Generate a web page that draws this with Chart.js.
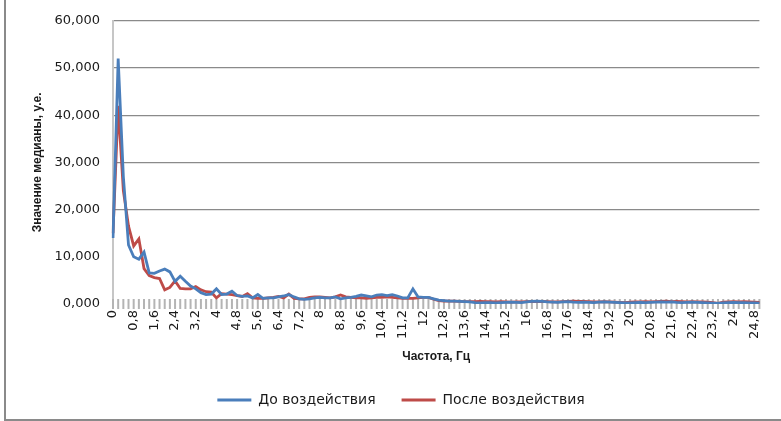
<!DOCTYPE html>
<html>
<head>
<meta charset="utf-8">
<script src="https://cdn.jsdelivr.net/npm/chart.js@4/dist/chart.umd.min.js"></script>
<style>
  html, body { margin: 0; padding: 0; background: #ffffff; }
  #chart { display: block; }
</style>
</head>
<body>
<canvas id="chart" width="781" height="421"></canvas>
<script>
// Frequency bins, Hz (step 0.2)
const frequencies = [
  0, 0.2, 0.4, 0.6, 0.8, 1, 1.2, 1.4, 1.6, 1.8,
  2, 2.2, 2.4, 2.6, 2.8, 3, 3.2, 3.4, 3.6, 3.8,
  4, 4.2, 4.4, 4.6, 4.8, 5, 5.2, 5.4, 5.6, 5.8,
  6, 6.2, 6.4, 6.6, 6.8, 7, 7.2, 7.4, 7.6, 7.8,
  8, 8.2, 8.4, 8.6, 8.8, 9, 9.2, 9.4, 9.6, 9.8,
  10, 10.2, 10.4, 10.6, 10.8, 11, 11.2, 11.4, 11.6, 11.8,
  12, 12.2, 12.4, 12.6, 12.8, 13, 13.2, 13.4, 13.6, 13.8,
  14, 14.2, 14.4, 14.6, 14.8, 15, 15.2, 15.4, 15.6, 15.8,
  16, 16.2, 16.4, 16.6, 16.8, 17, 17.2, 17.4, 17.6, 17.8,
  18, 18.2, 18.4, 18.6, 18.8, 19, 19.2, 19.4, 19.6, 19.8,
  20, 20.2, 20.4, 20.6, 20.8, 21, 21.2, 21.4, 21.6, 21.8,
  22, 22.2, 22.4, 22.6, 22.8, 23, 23.2, 23.4, 23.6, 23.8,
  24, 24.2, 24.4, 24.6, 24.8, 25
];

// Median value before exposure
const beforeValues = [
  14000, 52000, 27000, 12500, 10000, 9500, 11000, 6600, 6500, 7000,
  7400, 6800, 4800, 5900, 4800, 3800, 3200, 2400, 2000, 2100,
  3200, 2000, 2100, 2700, 1800, 1600, 1700, 1300, 2000, 1200,
  1300, 1300, 1500, 1700, 2000, 1500, 1100, 1000, 1100, 1300,
  1400, 1300, 1300, 1500, 1100, 1300, 1400, 1600, 1900, 1700,
  1500, 1900, 2000, 1800, 2000, 1700, 1300, 1300, 3200, 1500,
  1400, 1400, 1100, 800, 700, 600, 600, 550, 500, 450,
  300, 250, 300, 300, 250, 300, 350, 400, 350, 300,
  450, 550, 600, 550, 450, 400, 350, 450, 500, 400,
  350, 400, 350, 300, 400, 450, 400, 350, 300, 250,
  250, 300, 350, 300, 350, 400, 450, 400, 450, 350,
  300, 350, 400, 350, 300, 250, 200, 150, 250, 300,
  350, 300, 300, 250, 250, 200
];

// Median value after exposure
const afterValues = [
  15000, 42000, 24000, 16500, 12300, 13800, 7500, 6000, 5600, 5400,
  3000, 3500, 4900, 3300, 3200, 3200, 3700, 3000, 2600, 2500,
  1300, 2200, 2100, 2000, 1800, 1600, 2200, 1300, 1200, 1200,
  1300, 1400, 1600, 1300, 2100, 1200, 1100, 1100, 1400, 1500,
  1500, 1400, 1300, 1500, 1900, 1500, 1400, 1300, 1300, 1200,
  1300, 1400, 1400, 1500, 1400, 1300, 1200, 1200, 1200, 1300,
  1400, 1400, 1000, 700, 600, 600, 600, 550, 500, 500,
  500, 550, 500, 500, 450, 500, 450, 400, 450, 450,
  500, 550, 500, 550, 500, 450, 450, 500, 550, 600,
  550, 550, 500, 450, 450, 500, 450, 400, 350, 300,
  400, 450, 450, 500, 450, 500, 550, 600, 500, 550,
  500, 450, 500, 450, 450, 400, 300, 150, 400, 450,
  500, 450, 500, 450, 400, 350
];

// Y axis range and step
const yTicks = [0, 10000, 20000, 30000, 40000, 50000, 60000];
const hiddenGridValues = [0, 10000];
const labelEvery = 4;

const seriesNames = ['До воздействия', 'После воздействия'];
const seriesColors = ['#4a7ebb', '#be4b48'];

const categoryLabels = frequencies.map(f => String(f).replace('.', ','));

const FONT = "'DejaVu Sans', sans-serif";
const TEXT = '#1a1a1a';

// Short tick marks at every frequency bin, straddling the category axis
const binTicks = {
  id: 'binTicks',
  beforeDatasetsDraw(chart) {
    const x = chart.scales.x;
    const bottom = chart.chartArea.bottom;
    const ctx = chart.ctx;
    ctx.save();
    ctx.strokeStyle = '#b4b4b4';
    ctx.lineWidth = 2;
    for (let i = 0; i < frequencies.length; i++) {
      const px = x.getPixelForValue(i);
      ctx.beginPath();
      ctx.moveTo(px, bottom - 5);
      ctx.lineTo(px, bottom + 5);
      ctx.stroke();
    }
    ctx.restore();
  }
};

// Outer frame (left and bottom edges)
const frame = {
  id: 'frame',
  afterDraw(chart) {
    const ctx = chart.ctx;
    ctx.save();
    ctx.strokeStyle = '#8a8a8a';
    ctx.lineWidth = 2;
    ctx.beginPath();
    ctx.moveTo(5, 0);
    ctx.lineTo(5, 420);
    ctx.lineTo(chart.width, 420);
    ctx.stroke();
    ctx.restore();
  }
};

new Chart(document.getElementById('chart'), {
  type: 'line',
  data: {
    labels: categoryLabels,
    datasets: [
      {
        label: seriesNames[0],
        data: beforeValues,
        borderColor: seriesColors[0],
        backgroundColor: seriesColors[0],
        borderWidth: 2.8,
        pointRadius: 0,
        tension: 0
      },
      {
        label: seriesNames[1],
        data: afterValues,
        borderColor: seriesColors[1],
        backgroundColor: seriesColors[1],
        borderWidth: 2.8,
        pointRadius: 0,
        tension: 0
      }
    ]
  },
  options: {
    responsive: false,
    animation: false,
    layout: { padding: { top: 20, right: 9, left: 30, bottom: 4 } },
    plugins: {
      tooltip: { enabled: false },
      legend: {
        position: 'bottom',
        labels: {
          usePointStyle: true,
          pointStyle: 'line',
          pointStyleWidth: 34,
          padding: 26,
          color: TEXT,
          font: { family: FONT, size: 14 }
        }
      }
    },
    scales: {
      x: {
        type: 'category',
        offset: false,
        afterFit(scale) { scale.height = 63; },
        grid: { display: false, drawTicks: false },
        border: { display: false },
        ticks: {
          autoSkip: false,
          minRotation: 90,
          maxRotation: 90,
          padding: 6,
          color: TEXT,
          font: { family: FONT, size: 13 },
          callback(value, index) {
            return index % labelEvery === 0 ? categoryLabels[index] : '';
          }
        },
        title: {
          display: true,
          text: 'Частота, Гц',
          color: TEXT,
          font: { family: "'Liberation Sans', sans-serif", size: 12, weight: 'bold' },
          padding: { top: 0, bottom: 3 }
        }
      },
      y: {
        min: yTicks[0],
        max: yTicks[yTicks.length - 1],
        afterFit(scale) { scale.width = 83; },
        afterBuildTicks(scale) { scale.ticks = yTicks.map(v => ({ value: v })); },
        grid: {
          drawTicks: false,
          lineWidth: 1.3,
          color(ctx) {
            return hiddenGridValues.includes(ctx.tick && ctx.tick.value) ? 'rgba(0,0,0,0)' : '#8a8a8a';
          }
        },
        border: { display: true, color: '#c6c6c6', width: 2 },
        ticks: {
          padding: 13,
          color: TEXT,
          font: { family: FONT, size: 13 },
          callback(value) { return (value / 1000) + ',000'; }
        },
        title: {
          display: true,
          text: 'Значение медианы, у.е.',
          color: TEXT,
          font: { family: "'Liberation Sans', sans-serif", size: 12, weight: 'bold' },
          padding: { top: 0, bottom: 0 }
        }
      }
    }
  },
  plugins: [binTicks, frame]
});
</script>
</body>
</html>
